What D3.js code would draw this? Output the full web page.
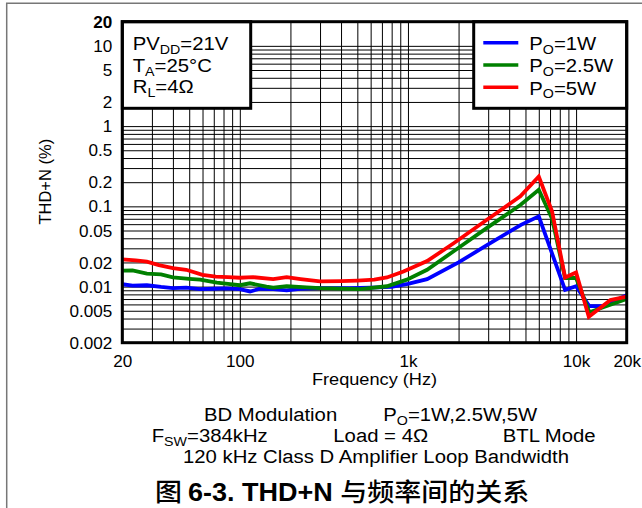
<!DOCTYPE html>
<html>
<head>
<meta charset="utf-8">
<script src="https://cdn.jsdelivr.net/npm/d3@7"></script>
<style>
  html, body { margin: 0; padding: 0; background: #fff; }
  svg { display: block; }
</style>
</head>
<body>
<div id="chart"></div>
<script>
// ---- data -------------------------------------------------------------
const seriesNames = ["1W", "2.5W", "5W"];
const seriesColors = ["#0000ff", "#008000", "#ff0000"];

const freqBlue = [20, 23, 28, 34, 40, 48, 58, 70, 83, 100, 115, 132, 158, 190, 228, 300, 450, 600, 800, 1000, 1300, 2000, 3000, 4700, 6000, 8600, 10000, 12000, 14500, 20000];
const thdBlue  = [0.0107, 0.0103, 0.0104, 0.0099, 0.0096, 0.0097, 0.0093, 0.0094, 0.0095, 0.0093, 0.0087, 0.0094, 0.0093, 0.0090, 0.0094, 0.0096, 0.0096, 0.0097, 0.0099, 0.0108, 0.0124, 0.0200, 0.0336, 0.0588, 0.0750, 0.0091, 0.0101, 0.0057, 0.0057, 0.0078];

const freqGreen = [20, 23, 28, 34, 40, 50, 58, 73, 85, 100, 115, 144, 158, 190, 250, 300, 520, 750, 985, 1300, 1870, 2950, 4660, 6000, 7200, 8600, 10000, 12000, 20000];
const thdGreen  = [0.0158, 0.0159, 0.0145, 0.0142, 0.0130, 0.0125, 0.0122, 0.0112, 0.0108, 0.0104, 0.0110, 0.0100, 0.0097, 0.0101, 0.0098, 0.0096, 0.0093, 0.0101, 0.0122, 0.0162, 0.0276, 0.0539, 0.104, 0.161, 0.070, 0.0128, 0.0128, 0.0048, 0.0070];

const freqRed = [20, 24, 28, 33, 40, 48, 60, 72, 85, 100, 120, 158, 190, 230, 300, 400, 500, 630, 750, 940, 1300, 1870, 2950, 4660, 6000, 7200, 8600, 10000, 11900, 16000, 20000];
const thdRed  = [0.0219, 0.0212, 0.0205, 0.0185, 0.0170, 0.0162, 0.0140, 0.0133, 0.0131, 0.0129, 0.0131, 0.0124, 0.0131, 0.0124, 0.0116, 0.0117, 0.0119, 0.0122, 0.0130, 0.0154, 0.0208, 0.0347, 0.068, 0.133, 0.235, 0.0863, 0.0130, 0.0150, 0.0042, 0.0068, 0.0075];

const xTickValues = [20, 100, 1000, 10000, 20000];
const xTickLabels = ["20", "100", "1k", "10k", "20k"];
const yTickValues = [20, 10, 5, 2, 1, 0.5, 0.2, 0.1, 0.05, 0.02, 0.01, 0.005, 0.002];
const yTickLabels = ["20", "10", "5", "2", "1", "0.5", "0.2", "0.1", "0.05", "0.02", "0.01", "0.005", "0.002"];

// ---- layout -----------------------------------------------------------
const W = 642, H = 508;
const plot = { left: 122.3, right: 626.7, top: 21.7, bottom: 342.7 };
const FONT = '"Liberation Sans", Arial, Helvetica, sans-serif';
const CJK = '"Noto Sans CJK SC", "Liberation Sans", sans-serif';
const SX = 1.07; // text is set slightly wide

const x = d3.scaleLog().domain([20, 20000]).range([plot.left, plot.right]);
const y = d3.scaleLog().domain([0.002, 20]).range([plot.bottom, plot.top]);

const svg = d3.select("#chart").append("svg")
  .attr("width", W).attr("height", H)
  .attr("viewBox", `0 0 ${W} ${H}`);
svg.append("rect").attr("width", W).attr("height", H).attr("fill", "#fff");

// page frame
svg.append("path")
  .attr("d", `M6.7,${H} L6.7,3.3 L${W},3.3`)
  .attr("fill", "none").attr("stroke", "#777").attr("stroke-width", 1.5);

// ---- grid -------------------------------------------------------------
const xGrid = [];
[10, 100, 1000, 10000].forEach(d => { for (let k = 1; k <= 9; k++) { const v = d * k; if (v >= 20 && v <= 20000) xGrid.push(v); } });
xGrid.push(20000);
const yGrid = [];
[0.001, 0.01, 0.1, 1, 10].forEach(d => { for (let k = 1; k <= 9; k++) { const v = +(d * k).toPrecision(3); if (v >= 0.002 && v <= 20) yGrid.push(v); } });
yGrid.push(20);

const gridX = svg.append("g").attr("transform", `translate(0,${plot.bottom})`)
  .call(d3.axisBottom(x).tickValues(xGrid).tickSize(-(plot.bottom - plot.top)).tickFormat(""));
const gridY = svg.append("g").attr("transform", `translate(${plot.left},0)`)
  .call(d3.axisLeft(y).tickValues(yGrid).tickSize(-(plot.right - plot.left)).tickFormat(""));
[gridX, gridY].forEach(g => {
  g.select(".domain").remove();
  g.selectAll("line").attr("stroke", "#000").attr("stroke-width", 1);
});

// ---- curves -----------------------------------------------------------
const series = [
  { f: freqBlue, v: thdBlue },
  { f: freqGreen, v: thdGreen },
  { f: freqRed, v: thdRed }
];
const line = d3.line().x(d => x(d[0])).y(d => y(d[1]));
series.forEach((s, i) => {
  svg.append("path")
    .datum(s.f.map((f, j) => [f, s.v[j]]))
    .attr("d", line)
    .attr("fill", "none")
    .attr("stroke", seriesColors[i])
    .attr("stroke-width", 3.8)
    .attr("stroke-linejoin", "miter");
});

// ---- text helper ------------------------------------------------------
function richText(parent, px, py, opts, parts) {
  const g = parent.append("g").attr("transform", `translate(${px},${py}) scale(${opts.sx || SX},1)`);
  const t = g.append("text")
    .attr("text-anchor", opts.anchor || "start")
    .attr("font-family", opts.family || FONT)
    .attr("font-size", opts.size)
    .attr("font-weight", opts.weight || "normal")
    .attr("fill", "#000");
  let shift = 0;
  parts.forEach(p => {
    const s = typeof p === "string" ? p : p.t;
    const ts = t.append("tspan").text(s);
    if (typeof p !== "string" && p.sub) {
      const d = opts.size * 0.2;
      ts.attr("dy", d - shift).attr("font-size", opts.size * 0.7);
      shift = d;
    } else {
      if (shift) ts.attr("dy", -shift);
      shift = 0;
      if (p.family) ts.attr("font-family", p.family);
      if (p.size) ts.attr("font-size", p.size);
      if (p.weight) ts.attr("font-weight", p.weight);
    }
  });
  return t;
}

// ---- axes labels ------------------------------------------------------
const yAxis = svg.append("g").attr("transform", `translate(${plot.left},0)`)
  .call(d3.axisLeft(y).tickValues(yTickValues).tickSize(0).tickPadding(10)
    .tickFormat((d, i) => yTickLabels[i]));
yAxis.select(".domain").remove();
yAxis.selectAll("text")
  .attr("font-family", FONT).attr("font-size", 16).attr("fill", "#000")
  .attr("dy", "0.35em")
  .attr("font-weight", d => d === 20 ? "bold" : "normal")
  .each(function () {
    const tx = +d3.select(this).attr("x");
    d3.select(this).attr("x", 0).attr("transform", `translate(${tx},0) scale(${SX},1)`);
  });

const xAxis = svg.append("g").attr("transform", `translate(0,${plot.bottom})`)
  .call(d3.axisBottom(x).tickValues(xTickValues).tickSize(0)
    .tickFormat((d, i) => xTickLabels[i]));
xAxis.select(".domain").remove();
xAxis.selectAll("text")
  .attr("font-family", FONT).attr("font-size", 16).attr("fill", "#000")
  .attr("y", 24.3).attr("dy", null)
  .attr("transform", `scale(${SX},1)`);

richText(svg, (plot.left + plot.right) / 2, 385, { anchor: "middle", size: 17 }, ["Frequency (Hz)"]);

svg.append("text")
  .attr("transform", "translate(51,181.7) rotate(-90)")
  .attr("text-anchor", "middle")
  .attr("font-family", FONT).attr("font-size", 16.5)
  .text("THD+N (%)");

// ---- condition box ----------------------------------------------------
svg.append("rect")
  .attr("x", plot.left).attr("y", plot.top)
  .attr("width", 250.7 - plot.left).attr("height", 108.3 - plot.top)
  .attr("fill", "#fff").attr("stroke", "#000").attr("stroke-width", 3);
richText(svg, 132.7, 50, { size: 19 }, ["PV", { t: "DD", sub: true }, "=21V"]);
richText(svg, 132.7, 71.7, { size: 19 }, ["T", { t: "A", sub: true }, "=25°C"]);
richText(svg, 132.7, 92.7, { size: 19 }, ["R", { t: "L", sub: true }, "=4Ω"]);

// ---- legend -----------------------------------------------------------
svg.append("rect")
  .attr("x", 473.7).attr("y", plot.top)
  .attr("width", plot.right - 473.7).attr("height", 108.3 - plot.top)
  .attr("fill", "#fff").attr("stroke", "#000").attr("stroke-width", 3);
seriesNames.forEach((name, i) => {
  const ly = 42.7 + i * 22.3;
  svg.append("line")
    .attr("x1", 483.3).attr("x2", 518.3).attr("y1", ly).attr("y2", ly)
    .attr("stroke", seriesColors[i]).attr("stroke-width", 3.6);
  richText(svg, 529.3, ly + 7.3, { size: 19 }, ["P", { t: "O", sub: true }, "=" + name]);
});

// ---- plot frame -------------------------------------------------------
svg.append("rect")
  .attr("x", plot.left).attr("y", plot.top)
  .attr("width", plot.right - plot.left).attr("height", plot.bottom - plot.top)
  .attr("fill", "none").attr("stroke", "#000").attr("stroke-width", 3);

// ---- test conditions & caption ---------------------------------------
richText(svg, 204, 421, { size: 19 }, ["BD Modulation"]);
richText(svg, 383.3, 421, { size: 19 }, ["P", { t: "O", sub: true }, "=1W,2.5W,5W"]);
richText(svg, 151.7, 442, { size: 19 }, ["F", { t: "SW", sub: true }, "=384kHz"]);
richText(svg, 333.3, 442, { size: 19 }, ["Load = 4Ω"]);
richText(svg, 502.7, 442, { size: 19 }, ["BTL Mode"]);
richText(svg, 376, 463, { anchor: "middle", size: 19 }, ["120 kHz Class D Amplifier Loop Bandwidth"]);

richText(svg, 155, 500.5, { size: 25, sx: 1.08 }, [
  { t: "图 ", family: CJK, weight: 500 },
  { t: "6-3. THD+N ", weight: "bold" },
  { t: "与频率间的关系", family: CJK, weight: 500 }
]);
</script>
</body>
</html>
